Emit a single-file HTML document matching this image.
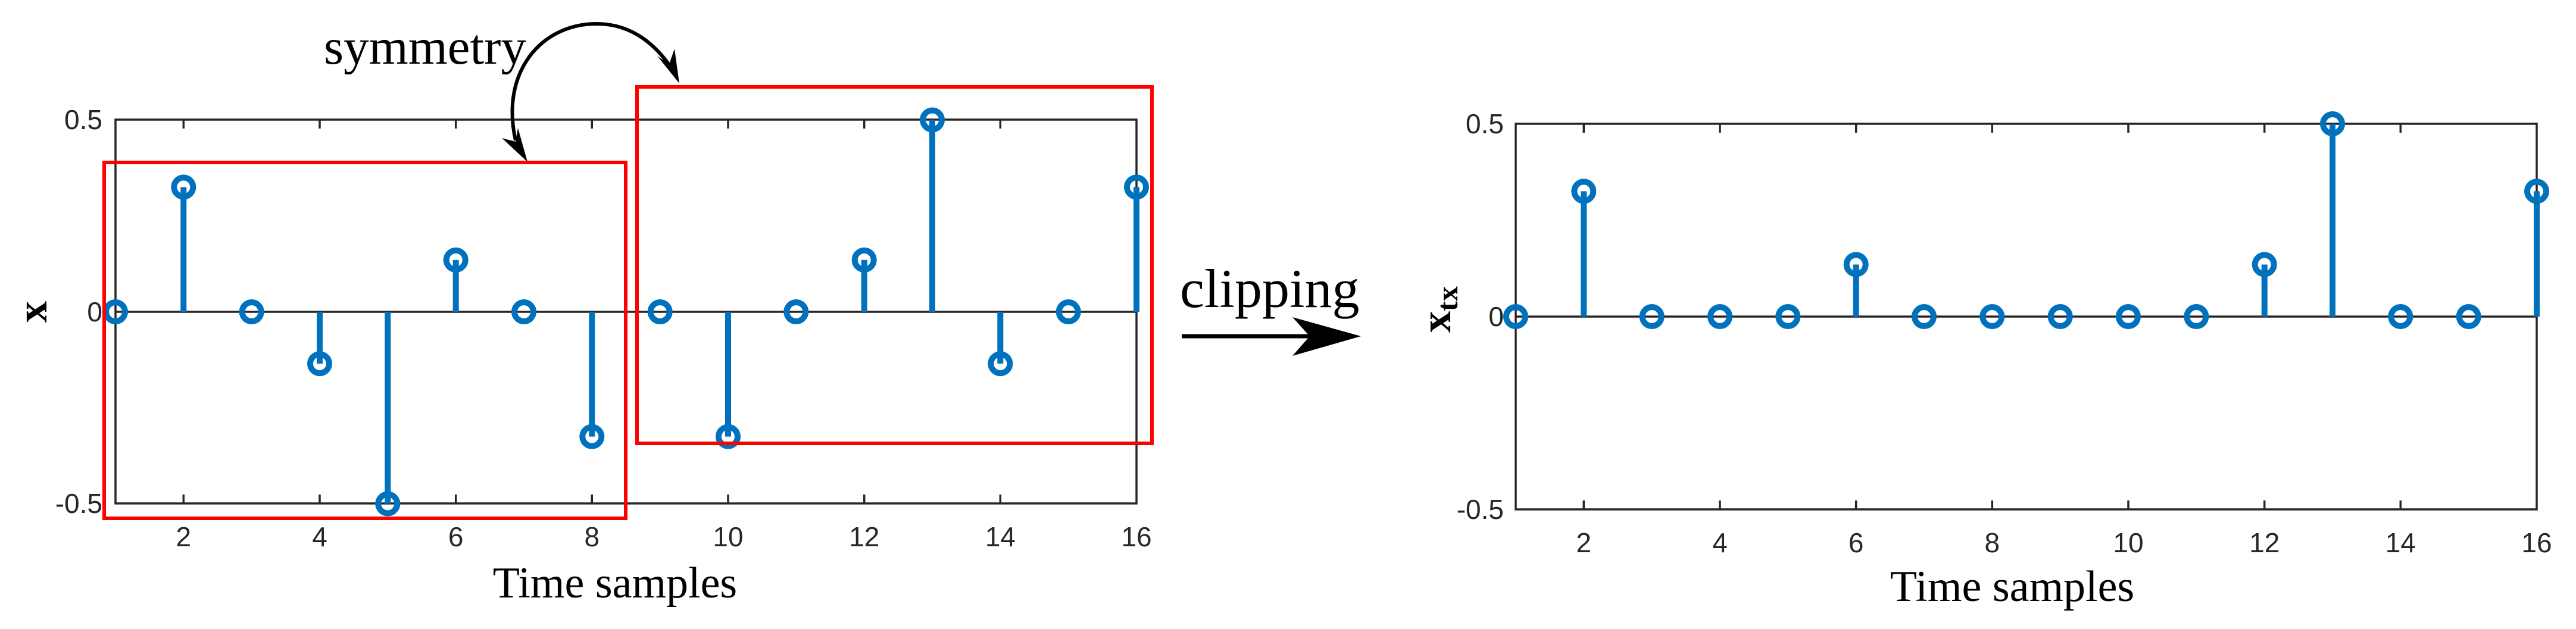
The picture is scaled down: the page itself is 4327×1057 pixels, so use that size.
<!DOCTYPE html>
<html><head><meta charset="utf-8"><style>
html,body{margin:0;padding:0;background:#fff}
svg{display:block}
.t{font-family:"Liberation Sans",sans-serif;font-size:46px;fill:#262626}
.s{font-family:"Liberation Serif",serif;fill:#000}
</style></head><body>
<svg width="4327" height="1057" viewBox="0 0 4327 1057" xmlns="http://www.w3.org/2000/svg">
<!-- LEFT PLOT -->
<g stroke="#262626" stroke-width="3.5" fill="none">
<rect x="194" y="201" width="1715" height="645"/>
<line x1="194" y1="524" x2="1909" y2="524"/>
<path d="M308.3 201v15M537 201v15M765.7 201v15M994.3 201v15M1223 201v15M1451.7 201v15M1680.3 201v15
M308.3 846v-15M537 846v-15M765.7 846v-15M994.3 846v-15M1223 846v-15M1451.7 846v-15M1680.3 846v-15"/>
</g>
<g class="t" text-anchor="end">
<text x="172" y="217">0.5</text><text x="172" y="540">0</text><text x="172" y="862">-0.5</text>
</g>
<g class="t" text-anchor="middle">
<text x="308.3" y="918">2</text><text x="537" y="918">4</text><text x="765.7" y="918">6</text><text x="994.3" y="918">8</text>
<text x="1223" y="918">10</text><text x="1451.7" y="918">12</text><text x="1680.3" y="918">14</text><text x="1909" y="918">16</text>
</g>
<g stroke="#0072BD" stroke-width="10" fill="none">
<path d="M308.3 524V314.4M537 524V611.1M651.3 524V846.5M765.7 524V436.9M994.3 524V733.6M1223 524V733.6M1451.7 524V436.9M1566 524V201.5M1680.3 524V611.1M1909 524V314.4"/>
</g>
<g stroke="#0072BD" stroke-width="10" fill="none">
<circle cx="194" cy="524" r="16"/><circle cx="308.3" cy="314.4" r="16"/><circle cx="422.7" cy="524" r="16"/>
<circle cx="537" cy="611.1" r="16"/><circle cx="651.3" cy="846.5" r="16"/><circle cx="765.7" cy="436.9" r="16"/>
<circle cx="880" cy="524" r="16"/><circle cx="994.3" cy="733.6" r="16"/><circle cx="1108.7" cy="524" r="16"/>
<circle cx="1223" cy="733.6" r="16"/><circle cx="1337.3" cy="524" r="16"/><circle cx="1451.7" cy="436.9" r="16"/>
<circle cx="1566" cy="201.5" r="16"/><circle cx="1680.3" cy="611.1" r="16"/><circle cx="1794.7" cy="524" r="16"/>
<circle cx="1909" cy="314.4" r="16"/>
</g>
<g stroke="#ff0000" stroke-width="6" fill="none">
<rect x="175" y="273" width="876" height="598"/>
<rect x="1070" y="146" width="865" height="599"/>
</g>
<text class="s" x="1033" y="1004" font-size="74" text-anchor="middle">Time samples</text>
<text class="s" font-size="72" font-weight="bold" text-anchor="middle" transform="translate(78,524) rotate(-90)">x</text>
<text class="s" x="544" y="107" font-size="85">symmetry</text>
<path d="M866 236 C 840 120, 910 40, 1002 40 C 1065 40, 1105 80, 1128 115" stroke="#000" stroke-width="6" fill="none"/>
<polygon points="886,272 843,232 866,238 870,215" fill="#000"/>
<polygon points="1141,140 1104,94 1124,108 1133,82" fill="#000"/>
<!-- middle -->
<text class="s" x="1982" y="516" font-size="92">clipping</text>
<line x1="1985" y1="565" x2="2200" y2="565" stroke="#000" stroke-width="7"/>
<polygon points="2286,565 2171,533 2200,565 2171,598" fill="#000"/>
<!-- RIGHT PLOT -->
<g stroke="#262626" stroke-width="3.5" fill="none">
<rect x="2546" y="208" width="1715" height="648"/>
<line x1="2546" y1="532" x2="4261" y2="532"/>
<path d="M2660.3 208v15M2889 208v15M3117.7 208v15M3346.3 208v15M3575 208v15M3803.7 208v15M4032.3 208v15
M2660.3 856v-15M2889 856v-15M3117.7 856v-15M3346.3 856v-15M3575 856v-15M3803.7 856v-15M4032.3 856v-15"/>
</g>
<g class="t" text-anchor="end">
<text x="2526" y="224">0.5</text><text x="2526" y="548">0</text><text x="2526" y="872">-0.5</text>
</g>
<g class="t" text-anchor="middle">
<text x="2660.3" y="928">2</text><text x="2889" y="928">4</text><text x="3117.7" y="928">6</text><text x="3346.3" y="928">8</text>
<text x="3575" y="928">10</text><text x="3803.7" y="928">12</text><text x="4032.3" y="928">14</text><text x="4261" y="928">16</text>
</g>
<g stroke="#0072BD" stroke-width="10" fill="none">
<path d="M2660.3 532V321.4M3117.7 532V444.5M3803.7 532V444.5M3918 532V208M4261 532V321.4"/>
</g>
<g stroke="#0072BD" stroke-width="10" fill="none">
<circle cx="2546" cy="532" r="16"/><circle cx="2660.3" cy="321.4" r="16"/><circle cx="2774.7" cy="532" r="16"/>
<circle cx="2889" cy="532" r="16"/><circle cx="3003.3" cy="532" r="16"/><circle cx="3117.7" cy="444.5" r="16"/>
<circle cx="3232" cy="532" r="16"/><circle cx="3346.3" cy="532" r="16"/><circle cx="3460.7" cy="532" r="16"/>
<circle cx="3575" cy="532" r="16"/><circle cx="3689.3" cy="532" r="16"/><circle cx="3803.7" cy="444.5" r="16"/>
<circle cx="3918" cy="208" r="16"/><circle cx="4032.3" cy="532" r="16"/><circle cx="4146.7" cy="532" r="16"/>
<circle cx="4261" cy="321.4" r="16"/>
</g>
<text class="s" x="3380" y="1010" font-size="74" text-anchor="middle">Time samples</text>
<text class="s" font-size="72" font-weight="bold" text-anchor="middle" transform="translate(2436,520) rotate(-90)">x<tspan font-size="50" dy="12">tx</tspan></text>
</svg>
</body></html>
